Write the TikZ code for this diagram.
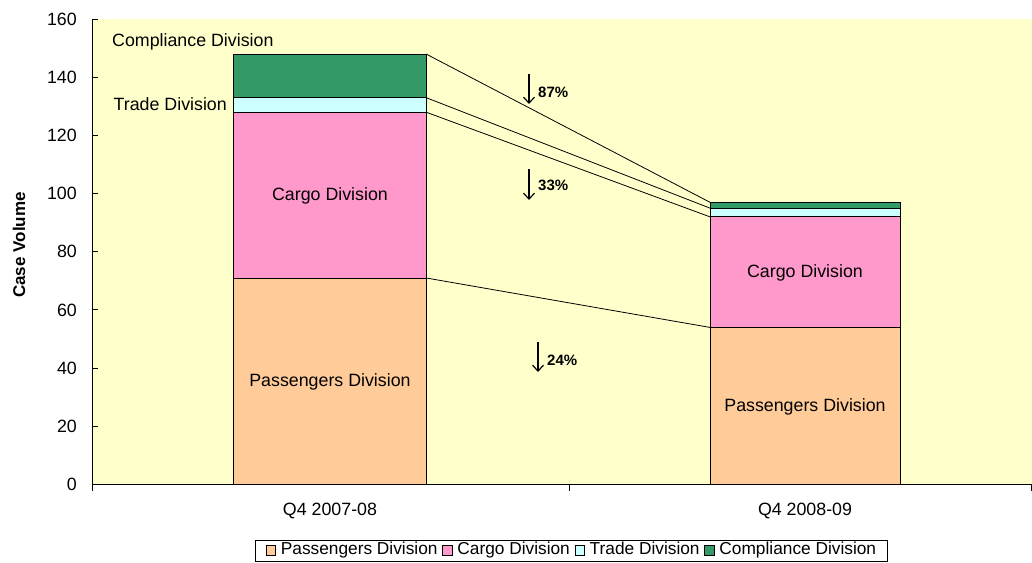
\documentclass[tikz,border=0pt]{standalone}
\usepackage{fontspec}
\setmainfont{Liberation Sans}
\usetikzlibrary{arrows.meta}
\definecolor{bgyel}{HTML}{FFFFCC}
\definecolor{passc}{HTML}{FFCC99}
\definecolor{cargoc}{HTML}{FF99CC}
\definecolor{tradec}{HTML}{CCFFFF}
\definecolor{complc}{HTML}{339966}
\newcommand{\legsq}[1]{{\setlength{\fboxsep}{0pt}\setlength{\fboxrule}{0.6pt}\fcolorbox{black}{#1}{\rule{0pt}{9pt}\rule{9pt}{0pt}}}}
\tikzset{
  seg/.style={draw=black, line width=0.9pt},
  conn/.style={draw=black, line width=0.8pt},
  axisline/.style={draw=black, line width=1pt},
  ticklab/.style={anchor=east, inner sep=0pt},
  lab/.style={inner sep=0pt},
  pct/.style={anchor=west, inner sep=0pt, font=\fontsize{15}{18}\selectfont\bfseries},
  downarr/.style={draw=black, line width=1.2pt, -{Straight Barb[length=6pt,width=11pt,line width=1.2pt]}}
}
\begin{document}
\begin{tikzpicture}[x=1pt,y=1pt,font=\fontsize{17.8}{20}\selectfont]
\useasboundingbox (0,0) rectangle (1032,562);
\fill[white] (0,0) rectangle (1032,562);
\fill[bgyel] (92,77.5) rectangle (1032,543);
\begin{scope}[shift={(92pt,77.5pt)}, y=2.909pt]
  % bar 1
  \draw[seg, fill=passc]  (141,0)   rectangle (334,71);
  \draw[seg, fill=cargoc] (141,71)  rectangle (334,128);
  \draw[seg, fill=tradec] (141,128) rectangle (334,133);
  \draw[seg, fill=complc] (141,133) rectangle (334,148);
  % bar 2
  \draw[seg, fill=passc]  (618,0)  rectangle (808,54);
  \draw[seg, fill=cargoc] (618,54) rectangle (808,92);
  \draw[seg, fill=tradec] (618,92) rectangle (808,95);
  \draw[seg, fill=complc] (618,95) rectangle (808,97);
  % connector end points
  \coordinate (a1) at (334,148); \coordinate (b1) at (618,97);
  \coordinate (a2) at (334,133); \coordinate (b2) at (618,95);
  \coordinate (a3) at (334,128); \coordinate (b3) at (618,92);
  \coordinate (a4) at (334,71);  \coordinate (b4) at (618,54);
  \draw[conn] (a1) -- (b1);
  \draw[conn] (a2) -- (b2);
  \draw[conn] (a3) -- (b3);
  \draw[conn] (a4) -- (b4);
  % axes
  \draw[axisline] (0,160) -- (0,0) -- (940,0);
  \foreach \v in {0,20,...,160}{
    \draw[axisline] (0,\v) -- (5.5,\v);
    \node[ticklab] (t\v) at (-15,\v) {\v};
  }
  \draw[axisline] (0,0) -- ++(0,-6pt);
  \draw[axisline] (477,0) -- ++(0,-6pt);
  \draw[axisline] (939.5,0) -- ++(0,-6pt);
\end{scope}
% bar labels
\node[lab, anchor=west] (lcomp) at (112,520) {Compliance Division};
\node[lab, anchor=east] (ltrade) at (227,458) {Trade Division};
\node[lab] (lcargo1) at (330,366) {Cargo Division};
\node[lab] (lpass1) at (330,180) {Passengers Division};
\node[lab] (lcargo2) at (805,289) {Cargo Division};
\node[lab] (lpass2) at (805,155) {Passengers Division};
% categories
\node[lab] (c1) at (330,51) {Q4 2007-08};
\node[lab] (c2) at (805,51) {Q4 2008-09};
% axis title
\node[lab, rotate=90, font=\fontsize{17}{20}\selectfont\bfseries] (ytitle) at (19,317) {Case Volume};
% percentage arrows
\coordinate (p1s) at (529,488); \coordinate (p1e) at (529,458);
\draw[downarr] (p1s) -- (p1e);
\node[pct] (p1) at (538,470) {87\%};
\coordinate (p2s) at (529,393); \coordinate (p2e) at (529,362);
\draw[downarr] (p2s) -- (p2e);
\node[pct] (p2) at (538,377) {33\%};
\coordinate (p3s) at (538,220); \coordinate (p3e) at (538,190);
\draw[downarr] (p3s) -- (p3e);
\node[pct] (p3) at (547,202) {24\%};
% legend
\draw[black, line width=0.8pt] (255,0.5) rectangle (887,22);
\node[lab, font=\fontsize{17.3}{19}\selectfont] (legend) at (571,11.5) {\legsq{passc} Passengers Division \legsq{cargoc} Cargo Division \legsq{tradec} Trade Division \legsq{complc} Compliance Division};
\end{tikzpicture}
\end{document}
